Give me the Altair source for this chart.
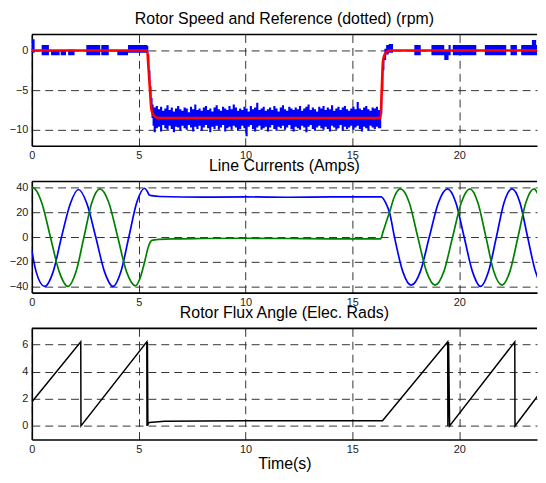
import altair as alt
import pandas as pd

FONT = "Liberation Sans"
X_TICKS = [0, 5, 10, 15, 20]

# ---------------- Panel 1: rotor speed (rpm) ----------------
TITLE_1 = "Rotor Speed and Reference (dotted) (rpm)"
SPEED_TICKS = [0, -5, -10]
REF_T = [0, 5.40, 5.45, 5.50, 5.55, 5.59, 5.66, 5.75, 5.85, 5.95,
         16.32, 16.36, 16.40, 16.43, 16.50, 16.58, 16.66, 16.74, 24.1]
REF_V = [0, 0, -1.8, -3.8, -5.8, -7.3, -8.0, -8.3, -8.45, -8.5,
         -8.5, -6.0, -3.2, -1.4, -0.6, -0.25, -0.08, 0, 0]

# measured speed: segments (start, end, low, high)
SEG_T0 = [0.00, 0.46, 0.90, 1.35, 1.70, 2.55, 3.25, 4.00, 4.50,
          5.40, 5.45, 5.50, 5.55, 5.60, 5.65, 5.70, 5.80,
          16.30, 16.35, 16.40, 16.45, 16.50, 16.58, 16.70,
          17.90, 18.70, 19.30, 19.50, 19.70, 21.20, 22.40, 22.90, 23.40, 23.60]
SEG_T1 = [0.13, 0.80, 1.30, 1.60, 2.00, 3.20, 3.60, 4.50, 5.40,
          5.45, 5.50, 5.55, 5.60, 5.65, 5.70, 5.80, 5.90,
          16.35, 16.40, 16.45, 16.50, 16.58, 16.70, 16.90,
          18.20, 19.30, 19.50, 19.60, 20.80, 22.20, 22.70, 23.40, 23.60, 24.10]
SEG_LO = [-0.3, -0.6, -0.6, -0.6, -0.6, -0.6, -0.6, -0.6, -0.3,
          -1.5, -3.5, -5.5, -7.0, -8.5, -9.5, -10.3, -9.8,
          -9.8, -8.0, -5.0, -2.5, -1.2, -0.5, -0.3,
          -0.6, -0.6, -1.2, -0.6, -0.6, -0.6, -0.6, -0.6, -0.6, -0.6]
SEG_HI = [1.4, 0.7, 0.0, 0.0, 0.1, 0.7, 0.7, 0.0, 0.7,
          0.6, -0.5, -2.5, -4.5, -6.0, -6.8, -7.2, -7.0,
          -7.0, -5.0, -2.0, -0.6, 0.2, 0.7, 0.8,
          0.7, 0.7, 0.0, 0.7, 0.7, 0.7, 0.7, 0.7, 1.3, 0.7]

# noisy band while running at -8.5 rpm, one entry per 0.1 s from 5.9 s
BAND_T0 = 5.9
BAND_DT = 0.1
BAND_HI = [-7.4, -7.1, -7.6, -7.3, -6.9, -7.5, -7.2, -7.7, -7.3, -7.0, -7.4, -7.6, -7.2,
           -7.3, -7.8, -7.1, -7.4, -6.8, -7.5, -7.3, -7.6, -7.2, -7.0, -7.5, -7.3, -7.7,
           -7.2, -6.9, -7.4, -7.6, -7.1, -7.3, -7.5, -7.0, -7.4, -6.8, -7.2, -7.6, -7.3,
           -7.5, -7.1, -7.3, -7.7, -7.0, -7.4, -7.2, -6.6, -7.5, -7.3, -7.1, -7.6, -7.4,
           -7.2, -7.5, -7.0, -7.3, -7.7, -7.2, -6.9, -7.4, -7.6, -7.1, -7.3, -7.5, -7.2,
           -7.4, -7.0, -7.6, -7.3, -7.1, -6.8, -7.5, -7.2, -7.4, -7.7, -7.1, -7.3, -7.0,
           -7.5, -7.2, -7.4, -6.9, -7.6, -7.3, -7.1, -7.5, -7.2, -7.0, -7.4, -7.6, -7.3,
           -7.1, -7.4, -6.5, -7.3, -7.5, -7.2, -7.0, -7.4, -7.6, -7.2, -7.3, -7.1, -7.5]
BAND_LO = [-9.6, -10.2, -9.4, -9.8, -10.0, -9.5, -9.9, -10.3, -9.6, -9.7, -10.1, -9.5, -9.8,
           -10.0, -9.4, -9.7, -10.2, -9.6, -9.9, -9.5, -10.1, -9.7, -9.4, -9.8, -10.3, -9.6,
           -9.9, -9.5, -10.0, -9.7, -9.4, -10.2, -9.8, -9.6, -10.0, -9.5, -9.7, -10.1, -9.9,
           -9.5, -9.8, -10.8, -9.6, -9.4, -9.9, -10.2, -9.7, -9.5, -10.0, -9.8, -9.6, -10.2,
           -9.7, -9.4, -9.9, -10.1, -9.6, -9.8, -9.5, -10.0, -9.7, -9.4, -9.9, -10.2, -9.6,
           -9.8, -10.0, -9.5, -9.7, -10.3, -9.6, -9.4, -9.9, -10.1, -9.7, -9.5, -9.8, -10.0,
           -9.6, -9.9, -10.2, -9.5, -9.7, -10.0, -9.8, -9.4, -10.1, -9.6, -9.9, -9.7, -9.5,
           -10.0, -9.7, -9.5, -9.9, -10.2, -9.6, -9.8, -10.1, -9.5, -9.7, -9.9, -9.6, -9.8]

# ---------------- Panel 2: line currents (A) ----------------
TITLE_2 = "Line Currents (Amps)"
CUR_TICKS = [40, 20, 0, -20, -40]
IA_T = [0.0, 0.2, 0.6, 1.0, 1.39, 1.8, 2.18, 2.58, 2.99, 3.4, 3.8, 4.17, 4.54, 4.91, 5.28,
        5.4, 5.5, 5.6, 6.0, 8.0, 10.0, 12.0, 14.0, 16.35,
        16.55, 16.75, 16.97, 17.36, 17.75, 18.18, 18.6, 19.03, 19.45, 19.84, 20.23,
        20.62, 21.0, 21.37, 21.74, 22.1, 22.47, 22.84, 23.2, 23.57, 23.94, 24.1]
IA_V = [-11, -28, -40, -28, 0, 27, 38.5, 27, 0, -28, -40, -28, 0, 28, 39.5,
        37, 34, 33.5, 32.8, 32.3, 32.5, 32.2, 32.5, 32.5,
        28, 19, 0, -28, -39, -28, 0, 28, 39, 28, 0,
        -28, -40, -28, 0, 28, 39, 28, 0, -28, -40, -39]
IB_T = [0.0, 0.05, 0.46, 0.87, 1.28, 1.69, 2.07, 2.44, 2.81, 3.19, 3.6, 4.02, 4.43, 4.85,
        5.05, 5.28, 5.45, 5.62, 5.8, 6.5, 8.0, 10.0, 12.0, 14.0, 16.32,
        16.45, 16.6, 16.74, 16.95, 17.25, 17.66, 18.06, 18.47, 18.87, 19.28, 19.69,
        20.1, 20.5, 20.87, 21.25, 21.62, 22.0, 22.37, 22.75, 23.12, 23.5, 23.85, 24.1]
IB_V = [39.5, 40, 28, 0, -28, -40, -28, 0, 28, 39, 28, 0, -28, -39.5,
        -34, -20, -8, -2.7, -2.2, -1.5, -1.2, -1.0, -1.2, -1.5, -1.5,
        5, 13, 20, 32, 39, 28, 0, -28, -39, -28, 0,
        28, 39, 28, 0, -28, -39, -28, 0, 28, 39, 28, 17]

# ---------------- Panel 3: rotor flux angle (rad) ----------------
TITLE_3 = "Rotor Flux Angle (Elec. Rads)"
ANG_TICKS = [0, 2, 4, 6]
ANG_T = [0, 2.29, 2.30, 5.38, 5.39, 5.41, 5.43, 5.45, 5.50, 6.2, 8.0, 10.0, 12.0, 14.0,
         16.41, 19.46, 19.47, 19.50, 19.55, 22.60, 22.61, 24.1]
ANG_V = [1.77, 6.2, 0.0, 6.2, 0.0, 6.2, 0.05, 0.2, 0.25, 0.35, 0.37, 0.38, 0.38, 0.39,
         0.39, 6.2, 0.0, 6.2, 0.0, 6.2, 0.0, 3.1]

X_LABEL = "Time(s)"

# ---------------- build tables ----------------
segs = list(zip(SEG_T0, SEG_T1, SEG_LO, SEG_HI))
segs += [(round(BAND_T0 + BAND_DT * i, 3), round(BAND_T0 + BAND_DT * (i + 1), 3), lo, hi)
         for i, (lo, hi) in enumerate(zip(BAND_LO, BAND_HI))]
segs.sort(key=lambda s: s[0])
rows = []
for k, (t0, t1, lo, hi) in enumerate(segs):
    rows.append({"t": t0, "lo": lo, "hi": hi})
    nxt = segs[k + 1][0] if k + 1 < len(segs) else None
    if nxt is None or nxt > t1 + 1e-9:
        rows.append({"t": t1, "lo": 0.0, "hi": 0.0})
speed_df = pd.DataFrame(rows)
ref_df = pd.DataFrame({"t": REF_T, "v": REF_V})
ia_df = pd.DataFrame({"t": IA_T, "v": IA_V})
ib_df = pd.DataFrame({"t": IB_T, "v": IB_V})
ang_df = pd.DataFrame({"t": ANG_T, "v": ANG_V, "i": list(range(len(ANG_T)))})
border_df = pd.DataFrame({"k": [0]})

W = 509
H = 112
xs = alt.Scale(domain=[0, 23.64], nice=False, zero=False)


def xax(title=None):
    common = dict(values=X_TICKS, labelFlush=False, labelOverlap=False)
    if title:
        return alt.Axis(title=title, titleFontSize=16, titleFont=FONT,
                        titleFontWeight="normal", titleColor="black", titlePadding=1,
                        **common)
    return alt.Axis(title=None, **common)


def yax(vals):
    return alt.Axis(values=vals, title=None, labelOverlap=False, labelFlush=False)


def ttl(text):
    return alt.TitleParams(text=text, fontSize=16, font=FONT, fontWeight="normal",
                           color="black", anchor="middle", offset=7)


def top_border():
    return alt.Chart(border_df).mark_rule(color="black", strokeWidth=1.6).encode(
        y=alt.value(0))


# panel 1
ys1 = alt.Scale(domain=[-12, 2], nice=False, zero=False)
band = alt.Chart(speed_df).mark_area(interpolate="step-after", color="#0000FF",
                                     clip=True, opacity=1).encode(
    x=alt.X("t:Q", scale=xs, axis=xax()),
    y=alt.Y("lo:Q", scale=ys1, axis=yax(SPEED_TICKS)),
    y2="hi:Q",
)
ref = alt.Chart(ref_df).mark_line(color="#FF0000", strokeWidth=2.6, clip=True,
                                  interpolate="monotone").encode(
    x=alt.X("t:Q", scale=xs, axis=xax()),
    y=alt.Y("v:Q", scale=ys1, axis=yax(SPEED_TICKS)),
)
p1 = alt.layer(band, ref, top_border()).properties(width=W, height=H, title=ttl(TITLE_1))

# panel 2
ys2 = alt.Scale(domain=[-45, 45], nice=False, zero=False)
la = alt.Chart(ia_df).mark_line(color="#0000FF", strokeWidth=1.7, clip=True,
                                interpolate="monotone").encode(
    x=alt.X("t:Q", scale=xs, axis=xax()),
    y=alt.Y("v:Q", scale=ys2, axis=yax(CUR_TICKS)),
)
lb = alt.Chart(ib_df).mark_line(color="#008000", strokeWidth=1.7, clip=True,
                                interpolate="monotone").encode(
    x=alt.X("t:Q", scale=xs, axis=xax()),
    y=alt.Y("v:Q", scale=ys2, axis=yax(CUR_TICKS)),
)
p2 = alt.layer(la, lb, top_border()).properties(width=W, height=H, title=ttl(TITLE_2))

# panel 3
ang = alt.Chart(ang_df).mark_line(color="black", strokeWidth=1.5, clip=True).encode(
    x=alt.X("t:Q", scale=xs, axis=xax(X_LABEL)),
    y=alt.Y("v:Q", scale=alt.Scale(domain=[-1, 7.2], nice=False, zero=False),
            axis=yax(ANG_TICKS)),
    order=alt.Order("i:Q"),
)
p3 = alt.layer(ang, top_border()).properties(width=W, height=H, title=ttl(TITLE_3))

chart = alt.vconcat(p1, p2, p3, spacing=36, bounds="flush").properties(
    padding={"left": 1, "top": 1, "right": 0, "bottom": 0},
    background="white",
).configure_view(
    stroke=None,
).configure_axis(
    grid=True, gridColor="#333333", gridDash=[8, 5], gridWidth=1, gridOpacity=1,
    ticks=False, domain=True, domainColor="black", domainWidth=1.6,
    labelFont=FONT, labelFontSize=11, labelColor="#222222",
    labelPadding=4, labelOverlap=False, labelFlush=False,
).configure_axisY(
    minExtent=20, maxExtent=20,
)

chart.save("out.html", embed_options={"renderer": "svg", "actions": False})
